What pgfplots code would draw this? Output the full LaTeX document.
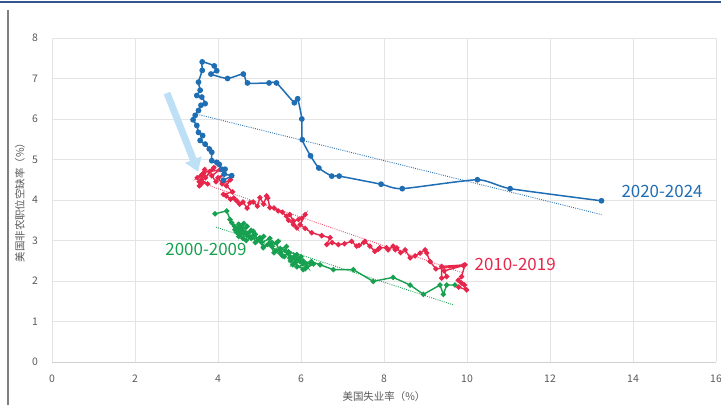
\documentclass[border=0pt]{standalone}
\usepackage{pgfplots}
\pgfplotsset{compat=1.18}
\usepackage{fontspec}
\setmainfont{Noto Sans CJK SC}
\usetikzlibrary{arrows.meta}
\definecolor{cblue}{HTML}{1F6DB3}
\definecolor{cred}{HTML}{E6264B}
\definecolor{cgreen}{HTML}{17A04F}
\definecolor{carrow}{HTML}{BDE0F7}
\definecolor{tickgray}{HTML}{595959}
\definecolor{gridgray}{HTML}{E4E4E4}
\definecolor{axisgray}{HTML}{D0D0D0}
\definecolor{topblue}{HTML}{35558F}
\begin{document}
\begin{tikzpicture}
\begin{axis}[
  x=41.5bp, y=40.5bp,
  xmin=0, xmax=16, ymin=0, ymax=8,
  xtick={0,2,4,6,8,10,12,14,16},
  ytick={0,1,2,3,4,5,6,7,8},
  grid=major,
  major grid style={draw=gridgray, line width=0.7bp},
  axis line style={draw=none},
  major tick length=0pt,
  tick label style={font=\fontsize{10.5}{12}\selectfont, text=tickgray},
  /pgf/number format/assume math mode=true,
  xticklabel style={anchor=center, yshift=-17bp},
  yticklabel style={anchor=center, xshift=-17bp},
  xlabel={美国失业率（\%）},
  ylabel={美国非农职位空缺率（\%）},
  label style={font=\fontsize{10.5}{12}\selectfont, text=tickgray},
  xlabel style={at={(axis description cs:0.5,-0.108)}, anchor=center},
  ylabel style={at={(axis description cs:-0.0482,0.5)}, anchor=center},
  clip=false,
]
\draw[axisgray, line width=0.9bp] (axis cs:0,0) -- (axis cs:16,0);
% arrow
\draw[carrow, line width=7bp, -{Triangle[width=17bp,length=13bp]}] (axis cs:2.77,6.64) -- (axis cs:3.52,4.70);
% green 2000-2009
\addplot[cgreen, line width=1.4bp, mark=*, mark size=1.9bp] coordinates {
(3.93,3.66)(4.21,3.73)(4.29,3.52)(4.33,3.44)(4.41,3.27)(4.55,3.30)(4.62,3.18)(4.85,3.23)(4.80,3.05)(5.01,3.07)
(5.09,2.82)(5.30,2.95)(5.41,2.94)(5.49,2.69)(5.62,2.75)(5.73,2.57)(5.85,2.62)(5.98,2.48)(5.80,2.40)(5.95,2.55)
(6.14,2.36)(6.05,2.50)(6.22,2.44)(5.90,2.35)(6.10,2.30)(6.30,2.42)(6.05,2.28)(5.85,2.45)(6.00,2.60)(5.75,2.50)
(5.90,2.65)(5.70,2.72)(5.60,2.60)(5.50,2.78)(5.65,2.85)(5.40,2.75)(5.30,2.85)(5.45,2.98)(5.20,2.90)(5.25,3.05)
(5.05,2.95)(5.10,3.10)(4.95,3.00)(4.90,3.15)(4.75,3.10)(4.80,3.25)(4.65,3.20)(4.70,3.35)(4.55,3.25)(4.50,3.40)
(4.60,3.30)(4.45,3.20)(4.40,3.35)(4.55,3.15)(4.48,3.30)(4.62,3.42)(4.50,3.10)(4.42,3.25)(4.60,3.05)(4.70,3.18)
(4.68,3.00)(4.85,3.12)(4.90,2.95)(5.00,3.02)(5.10,2.85)(5.25,2.92)(5.35,2.70)(5.50,2.80)(5.55,2.62)(5.70,2.68)
(5.85,2.55)(6.05,2.42)(6.25,2.48)(6.46,2.40)(6.78,2.28)(7.26,2.28)(7.74,1.99)(8.22,2.09)(8.63,1.90)(8.95,1.67)
(9.35,1.90)(9.43,1.67)(9.51,1.90)(9.71,1.90)
};
% red 2010-2019
\addplot[cred, line width=1.4bp, mark=*, mark size=1.9bp] coordinates {
(9.80,1.85)(9.99,1.78)(9.87,1.95)(9.94,1.90)(9.79,2.02)(9.87,2.11)(9.95,2.40)(9.39,2.36)(9.39,2.07)(9.51,2.11)
(9.45,2.25)(9.91,2.38)(9.25,2.30)(9.11,2.48)(9.03,2.69)(8.99,2.77)(8.87,2.69)(8.75,2.62)(8.63,2.57)(8.51,2.77)
(8.40,2.70)(8.31,2.82)(8.27,2.77)(8.22,2.86)(8.10,2.77)(8.06,2.82)(7.90,2.82)(7.86,2.78)(7.78,2.73)(7.66,2.86)
(7.54,2.98)(7.51,2.95)(7.40,2.88)(7.34,2.86)(7.22,2.98)(7.05,2.92)(6.90,2.90)(6.75,2.95)(6.62,2.90)(6.70,3.07)
(6.50,3.12)(6.26,3.19)(6.10,3.30)(5.98,3.39)(6.10,3.64)(6.02,3.55)(5.94,3.52)(5.82,3.48)(5.73,3.64)(5.90,3.31)
(5.82,3.39)(5.70,3.50)(5.65,3.60)(5.55,3.70)(5.45,3.73)(5.35,3.80)(5.25,3.81)(5.20,4.05)(5.17,4.10)(5.10,3.90)
(5.01,4.06)(4.95,3.85)(4.85,3.95)(4.77,3.93)(4.70,3.80)(4.60,3.95)(4.52,3.90)(4.45,3.98)(4.38,4.05)(4.30,4.02)
(4.20,4.10)(4.13,4.14)(4.35,4.20)(4.20,4.35)(4.30,4.50)(4.10,4.40)(4.00,4.55)(4.15,4.65)(3.95,4.45)(3.85,4.60)
(4.05,4.75)(3.80,4.70)(3.70,4.55)(3.90,4.80)(3.65,4.65)(3.60,4.50)(3.75,4.40)(3.55,4.45)(3.62,4.62)(3.50,4.55)
(3.68,4.75)(3.55,4.35)(3.60,4.40)
};
% blue 2020-2024
\addplot[cblue, line width=1.5bp, mark=*, mark size=2.1bp, smooth, tension=0.35] coordinates {
(13.24,3.98)(11.04,4.28)(10.25,4.50)(8.44,4.28)(7.93,4.39)(6.92,4.59)(6.74,4.59)(6.43,4.79)(6.23,5.09)(6.03,5.49)
(6.02,6.00)(5.92,6.50)(5.84,6.40)(5.41,6.89)(5.23,6.89)(4.71,6.89)(4.61,7.11)(4.23,7.00)(3.83,7.11)(3.97,7.19)
(3.91,7.31)(3.62,7.41)(3.62,7.20)(3.53,6.91)(3.57,6.71)(3.49,6.58)(3.61,6.54)(3.69,6.38)(3.59,6.34)(3.53,6.21)
(3.45,6.09)(3.40,5.98)(3.49,5.84)(3.53,5.67)(3.63,5.59)(3.57,5.47)(3.69,5.38)(3.79,5.26)(3.85,5.18)(3.85,4.97)
(3.97,4.93)(4.03,4.88)(4.09,4.76)(4.17,4.76)(4.15,4.64)(4.33,4.60)(4.13,4.49)
};
% trend lines
\addplot[cgreen, line width=0.9bp, dash pattern=on 0.9bp off 1.3bp] coordinates {(3.95,3.33)(9.67,1.41)};
\addplot[cred!80, line width=0.9bp, dash pattern=on 0.9bp off 1.3bp] coordinates {(3.80,4.35)(9.90,2.20)};
\addplot[cblue, line width=0.9bp, dash pattern=on 0.9bp off 1.3bp] coordinates {(3.45,6.13)(13.24,3.64)};
% labels
\node[text=cblue, font=\fontsize{17}{20}\selectfont] at (axis cs:14.7,4.2) {2020-2024};
\node[text=cred, font=\fontsize{17}{20}\selectfont] at (axis cs:11.16,2.4) {2010-2019};
\node[text=cgreen, font=\fontsize{17}{20}\selectfont] at (axis cs:3.71,2.77) {2000-2009};
\end{axis}
\pgfresetboundingbox
\path[use as bounding box] (-52bp,-43bp) rectangle (669bp,362bp);
\draw[topblue, line width=2bp] (-52bp,360bp) -- (669bp,360bp);
\draw[gray, line width=1.5bp] (-44bp,-43bp) -- (-44bp,352bp);
\end{tikzpicture}
\end{document}
